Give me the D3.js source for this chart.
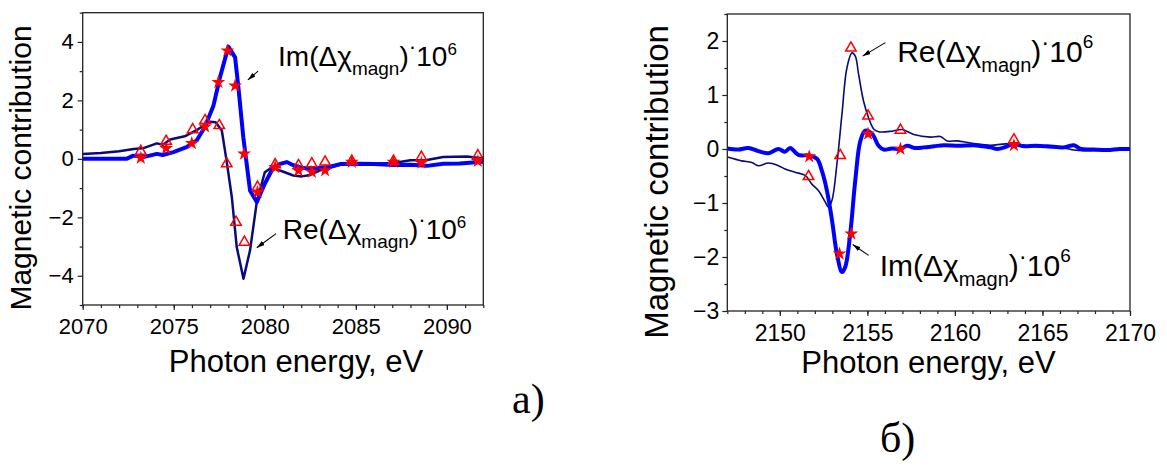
<!DOCTYPE html>
<html>
<head>
<meta charset="utf-8">
<script src="https://cdn.jsdelivr.net/npm/d3@7"></script>
<style>
  body { margin: 0; background: #fff; }
  svg { display: block; }
</style>
</head>
<body>
<svg id="chart" width="1167" height="467"></svg>
<script>
// ---- panel a) : 2070–2092 eV ----
const aTicksX = [2070, 2075, 2080, 2085, 2090];
const aTicksY = [-4, -2, 0, 2, 4];
const aRe = [[2070,0.17],[2071,0.2],[2072,0.26],[2072.8,0.34],[2073.3,0.36],[2074.07,0.53],[2074.4,0.48],
  [2074.8,0.66],[2075.6,0.77],[2076.35,1.02],[2077.0,1.27],[2077.3,1.25],[2077.64,0.97],[2077.9,-0.06],
  [2078.19,-1.31],[2078.46,-3.02],[2078.83,-4.1],[2079.19,-3.13],[2079.56,-1.48],[2080.0,-0.46],
  [2080.4,-0.29],[2080.84,-0.4],[2081.57,-0.57],[2082.03,-0.6],[2082.5,-0.55],[2083.0,-0.4],[2083.4,-0.34],
  [2084.14,-0.2],[2085,-0.18],[2086,-0.17],[2087.07,-0.14],[2088.0,-0.05],[2088.9,-0.04],[2089.8,0.06],
  [2091.1,0.08],[2091.8,0.03],[2092,0.04]];
const aIm = [[2070,0],[2071,0],[2072.4,0],[2072.78,0.11],[2073.33,0.06],[2074.07,0.17],[2074.4,0.13],
  [2074.98,0.23],[2075.7,0.4],[2076.26,0.63],[2076.7,1.08],[2077.18,1.82],[2077.54,2.79],[2078.0,3.84],
  [2078.37,3.47],[2078.55,2.45],[2078.82,0.74],[2079.19,-1.08],[2079.56,-1.48],[2080.0,-0.85],
  [2080.38,-0.4],[2080.84,-0.17],[2081.2,-0.11],[2081.57,-0.22],[2082.0,-0.3],[2082.5,-0.34],[2083.0,-0.31],
  [2083.4,-0.29],[2084.14,-0.18],[2085.2,-0.17],[2086,-0.18],[2087.07,-0.21],[2088,-0.2],[2088.9,-0.24],
  [2089.8,-0.17],[2090.7,-0.16],[2092,-0.1]];
const aReExp = [[2073.19,0.26],[2074.58,0.6],[2076.04,1.0],[2076.72,1.31],[2077.5,1.14],[2077.91,-0.17],
  [2078.42,-2.17],[2078.88,-2.85],[2079.6,-0.97],[2080.57,-0.2],[2081.85,-0.23],[2082.58,-0.17],
  [2083.31,-0.11],[2084.78,-0.08],[2087.07,-0.08],[2088.6,0.06],[2091.7,0.11]];
const aImExp = [[2073.19,0.03],[2074.58,0.36],[2075.99,0.53],[2076.72,1.1],[2077.45,2.62],[2077.95,3.7],
  [2078.37,2.5],[2078.86,0.17],[2079.6,-1.14],[2080.57,-0.29],[2081.85,-0.4],[2082.58,-0.45],
  [2083.31,-0.4],[2084.78,-0.11],[2087.07,-0.11],[2088.6,-0.14],[2091.7,-0.08]];

// ---- panel б) : 2147–2170 eV ----
const bTicksX = [2150, 2155, 2160, 2165, 2170];
const bTicksY = [-3, -2, -1, 0, 1, 2];
const bRe = [[2147.0,-0.15],[2147.82,-0.22],[2148.4,-0.25],[2148.77,-0.31],[2149.35,-0.26],[2149.92,-0.31],
  [2150.3,-0.37],[2150.87,-0.43],[2151.45,-0.49],[2151.83,-0.65],[2152.2,-0.77],[2152.59,-0.98],
  [2152.78,-1.08],[2152.98,-0.95],[2153.26,-0.28],[2153.55,0.65],[2153.83,1.5],[2154.12,1.78],
  [2154.31,1.72],[2154.5,1.38],[2154.78,0.89],[2155.07,0.58],[2155.36,0.37],[2155.64,0.32],[2156.41,0.33],
  [2156.98,0.36],[2157.65,0.27],[2158.6,0.22],[2159.17,0.23],[2159.56,0.15],[2160.13,0.15],[2161.08,0.1],
  [2162.04,0.07],[2162.7,0.09],[2163.37,0.1],[2164.33,0.05],[2165.3,0.03],[2166.23,0.02],[2166.8,-0.02],
  [2167.5,-0.03],[2168.5,-0.02],[2170,-0.01]];
const bIm = [[2147.0,0.01],[2147.63,-0.01],[2148.2,0.02],[2148.77,-0.04],[2149.35,-0.08],[2149.92,0.0],
  [2150.3,-0.05],[2150.59,0.02],[2151.06,-0.11],[2151.64,-0.12],[2152.12,-0.18],[2152.4,-0.4],
  [2152.69,-0.77],[2152.98,-1.32],[2153.26,-1.94],[2153.55,-2.28],[2153.74,-2.18],[2154.02,-1.57],
  [2154.31,-0.58],[2154.6,0.15],[2154.88,0.34],[2155.27,0.28],[2155.64,0.06],[2155.93,-0.01],[2156.4,0.01],
  [2156.89,0.0],[2157.27,0.06],[2157.7,0.02],[2158.22,0.03],[2158.8,0.05],[2159.37,0.07],[2160.2,0.06],
  [2161.08,0.07],[2161.6,0.05],[2162.04,0.03],[2162.42,0.0],[2162.9,0.04],[2163.28,0.09],[2163.94,0.05],
  [2164.6,0.06],[2165.3,0.05],[2166.23,0.03],[2166.8,0.07],[2167.19,0.0],[2167.9,-0.01],[2168.7,-0.02],
  [2169.4,0.0],[2170,0.0]];
const bReExp = [[2151.64,-0.51],[2153.45,-0.12],[2154.06,1.87],[2155.04,0.61],[2156.89,0.35],[2163.37,0.17]];
const bImExp = [[2151.68,-0.14],[2153.41,-1.94],[2154.08,-1.57],[2155.04,0.28],[2156.89,0.0],[2163.37,0.07]];

const FONT = 'Arial, "Liberation Sans", sans-serif';
const SERIF = '"Times New Roman", "Liberation Serif", serif';
const NAVY = '#0a0a78', BLUE = '#0000ff', RED = '#ff0000';

const svg = d3.select('#chart');
const defs = svg.append('defs');
defs.append('marker').attr('id', 'arrow').attr('viewBox', '0 0 10 6').attr('refX', 10).attr('refY', 3)
  .attr('markerWidth', 8).attr('markerHeight', 5).attr('markerUnits', 'userSpaceOnUse').attr('orient', 'auto')
  .append('path').attr('d', 'M0,0L10,3L0,6Z').attr('fill', '#000');

function label(sel, x, y, name, fs, sub, sup) {
  const t = sel.append('text').attr('x', x).attr('y', y).attr('font-family', FONT).attr('font-size', fs).attr('fill', '#000');
  t.append('tspan').text(name + '(\u0394\u03c7');
  t.append('tspan').attr('font-size', sub.fs).attr('dy', sub.dy).text('magn');
  t.append('tspan').attr('dy', -sub.dy).text(')');
  t.append('tspan').attr('dy', -12).attr('font-size', fs * 0.8).text('\u00b7');
  t.append('tspan').attr('dy', 12).text('10');
  t.append('tspan').attr('font-size', sup.fs).attr('dy', sup.dy).text('6');
}

function drawPanel(p) {
  const x = d3.scaleLinear().domain(p.xDomain).range([p.left, p.right]);
  const y = d3.scaleLinear().domain(p.yDomain).range([p.bottom, p.top]);
  const g = svg.append('g');
  const clipId = 'clip' + p.id;
  defs.append('clipPath').attr('id', clipId).append('rect')
    .attr('x', p.left).attr('y', p.top).attr('width', p.right - p.left).attr('height', p.bottom - p.top);

  // minor ticks
  const xMinor = d3.range(p.xDomain[0], p.xDomain[1] + 0.01, 1);
  g.append('g').attr('transform', `translate(0,${p.bottom})`)
    .call(d3.axisBottom(x).tickValues(xMinor).tickSize(3).tickFormat(''))
    .call(a => a.select('.domain').remove());
  g.append('g').attr('transform', `translate(${p.left},0)`)
    .call(d3.axisLeft(y).tickValues(p.yMinor).tickSize(3).tickFormat(''))
    .call(a => a.select('.domain').remove());

  // major ticks + labels
  const ax = g.append('g').attr('transform', `translate(0,${p.bottom})`)
    .call(d3.axisBottom(x).tickValues(p.xTicks).tickSize(5).tickPadding(p.xPad).tickFormat(d3.format('d')));
  ax.select('.domain').remove();
  ax.selectAll('text').attr('font-family', FONT).attr('font-size', p.tickFs).attr('fill', '#000');
  const ay = g.append('g').attr('transform', `translate(${p.left},0)`)
    .call(d3.axisLeft(y).tickValues(p.yTicks).tickSize(5).tickPadding(p.yPad).tickFormat(d3.format('d')));
  ay.select('.domain').remove();
  ay.selectAll('text').attr('font-family', FONT).attr('font-size', p.tickFs).attr('fill', '#000');
  g.selectAll('.tick line').attr('stroke', '#222').attr('stroke-width', 1.2);

  // curves
  const line = d3.line().x(d => x(d[0])).y(d => y(d[1])).curve(p.curve);
  const plot = g.append('g').attr('clip-path', `url(#${clipId})`);
  plot.append('path').datum(p.re).attr('d', line).attr('fill', 'none')
    .attr('stroke', NAVY).attr('stroke-width', p.reWidth).attr('stroke-linejoin', 'round');
  plot.append('path').datum(p.im).attr('d', line).attr('fill', 'none')
    .attr('stroke', BLUE).attr('stroke-width', 4).attr('stroke-linejoin', 'round');

  // experimental points
  plot.selectAll('.tri').data(p.reExp).join('path')
    .attr('transform', d => `translate(${x(d[0])},${y(d[1])})`)
    .attr('d', d3.symbol(d3.symbolTriangle, 48)).attr('fill', 'none').attr('stroke', RED).attr('stroke-width', 1.5);
  plot.selectAll('.star').data(p.imExp).join('path')
    .attr('transform', d => `translate(${x(d[0])},${y(d[1])})`)
    .attr('d', d3.symbol(d3.symbolStar, 60)).attr('fill', RED);

  // frame
  g.append('rect').attr('x', p.left).attr('y', p.top).attr('width', p.right - p.left).attr('height', p.bottom - p.top)
    .attr('fill', 'none').attr('stroke', '#222').attr('stroke-width', 1.3);

  // axis titles
  g.append('text').attr('x', p.xTitleX).attr('y', p.xTitleY).attr('text-anchor', 'middle')
    .attr('font-family', FONT).attr('font-size', 31).attr('fill', '#000').text('Photon energy, eV');
  g.append('text').attr('transform', `translate(${p.yTitleX},${p.yTitleY}) rotate(-90)`).attr('text-anchor', 'middle')
    .attr('font-family', FONT).attr('font-size', p.yTitleFs).attr('fill', '#000').text('Magnetic contribution');

  // annotations
  p.notes.forEach(n => {
    g.append('line').attr('x1', x(n.from[0])).attr('y1', y(n.from[1])).attr('x2', x(n.to[0])).attr('y2', y(n.to[1]))
      .attr('stroke', '#000').attr('stroke-width', 1.1).attr('marker-end', 'url(#arrow)');
    label(g, x(n.at[0]), y(n.at[1]), n.name, p.noteFs, p.sub, p.sup);
  });

  g.append('text').attr('x', p.tagX).attr('y', p.tagY).attr('font-family', SERIF).attr('font-size', 42)
    .attr('fill', '#000').text(p.tag);
}

drawPanel({
  id: 'a', xDomain: [2070, 2092], yDomain: [-5, 5],
  left: 82.7, right: 483.3, top: 12.7, bottom: 305,
  xTicks: aTicksX, yTicks: aTicksY, yMinor: [-5, -3, -1, 1, 3, 5],
  tickFs: 22, xPad: 8, yPad: 4,
  re: aRe, im: aIm, reExp: aReExp, imExp: aImExp, reWidth: 2.5, curve: d3.curveLinear,
  xTitleX: 296, xTitleY: 372, yTitleX: 31, yTitleY: 168, yTitleFs: 30,
  noteFs: 28, sub: { fs: 19, dy: 9 }, sup: { fs: 17, dy: -11 },
  notes: [
    { name: 'Im', at: [2080.73, 3.19], from: [2079.63, 3.0], to: [2079.07, 2.7] },
    { name: 'Re', at: [2080.99, -2.74], from: [2080.62, -2.56], to: [2079.56, -3.04] }
  ],
  tag: 'a)', tagX: 512, tagY: 413
});

drawPanel({
  id: 'b', xDomain: [2147, 2170], yDomain: [-3, 2.5],
  left: 727.3, right: 1130, top: 14, bottom: 311,
  xTicks: bTicksX, yTicks: bTicksY, yMinor: [-2.5, -1.5, -0.5, 0.5, 1.5, 2.5],
  tickFs: 23, xPad: 9, yPad: 3,
  re: bRe, im: bIm, reExp: bReExp, imExp: bImExp, reWidth: 1.6, curve: d3.curveCatmullRom,
  xTitleX: 928.5, xTitleY: 373, yTitleX: 668, yTitleY: 182, yTitleFs: 33,
  noteFs: 30, sub: { fs: 20, dy: 10 }, sup: { fs: 19, dy: -14 },
  notes: [
    { name: 'Re', at: [2156.7, 1.61], from: [2156.03, 1.97], to: [2154.73, 1.72] },
    { name: 'Im', at: [2155.7, -2.36], from: [2155.07, -1.97], to: [2154.16, -1.77] }
  ],
  tag: '\u0431)', tagX: 880, tagY: 452
});
</script>
</body>
</html>
